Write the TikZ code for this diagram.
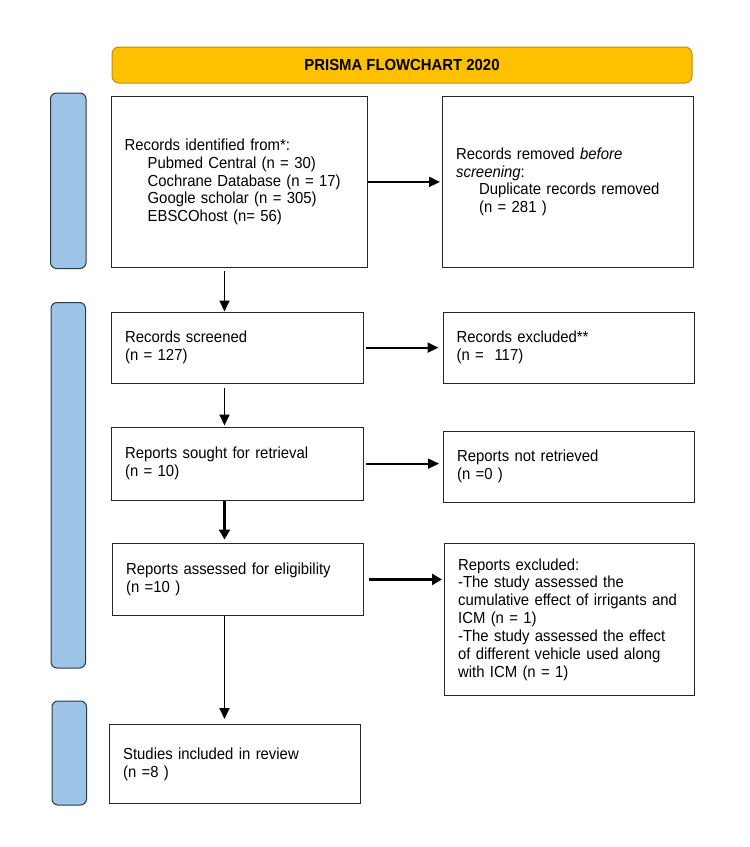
\documentclass[tikz,border=0pt]{standalone}
\usepackage{fontspec}
\setmainfont{Liberation Sans}[FakeStretch=0.93]
\usepackage{tikz}
\usetikzlibrary{calc, arrows.meta, positioning}

\definecolor{prismagold}{HTML}{FFC000}
\definecolor{prismagoldline}{HTML}{BF9000}
\definecolor{phaseblue}{HTML}{9DC3E6}
\definecolor{phaseline}{HTML}{2B3A4A}

\newcommand{\subline}{\hspace*{23pt}}

\tikzset{
    flowbox/.style={draw=black!85, line width=1.3pt, rectangle, anchor=north west,
        inner xsep=13.5pt, inner ysep=0pt, align=left,
        font=\fontsize{16}{17.9}\selectfont},
    titlebar/.style={draw=prismagoldline, fill=prismagold, line width=1pt,
        rounded corners=7pt, minimum width=580pt, minimum height=36pt,
        font=\bfseries\fontsize{16}{18}\selectfont},
    phasebar/.style={draw=phaseline, line width=1pt, fill=phaseblue, rounded corners=6pt},
    flowarrow/.style={-{Triangle[length=11pt, width=10pt]}, line width=1.8pt},
    heavyarrow/.style={-{Triangle[length=10pt, width=11pt]}, line width=2.6pt},
}

\begin{document}
\begin{tikzpicture}[x=1pt, y=-1pt]
    % --- page frame ---
    \useasboundingbox (0,0) rectangle (750,847);
    \fill[white] (0,0) rectangle (750,847);

    % --- heading ---
    \node[titlebar] (title) at (402,65) {PRISMA FLOWCHART 2020};

    % --- phase bars on the left ---
    \draw[phasebar] (50.5,93) rectangle (86,268.5);
    \draw[phasebar] (51,302.5) rectangle (85.5,668);
    \draw[phasebar] (52,701) rectangle (86.5,805);

    % --- left column ---
    \node[flowbox, text width=229.5pt, minimum height=171.5pt] (ident) at (110.5,95.5)
        {Records identified from*:\\
         \subline Pubmed Central (n = 30)\\
         \subline Cochrane Database (n = 17)\\
         \subline Google scholar (n = 305)\\
         \subline EBSCOhost (n= 56)};
    \node[flowbox, text width=224.5pt, minimum height=71pt] (screened) at (111,311.5)
        {Records screened\\(n = 127)};
    \node[flowbox, text width=225pt, minimum height=73pt] (sought) at (111,426.5)
        {Reports sought for retrieval\\(n = 10)};
    \node[flowbox, text width=223.5pt, minimum height=72.5pt] (assessed) at (112,542.5)
        {Reports assessed for eligibility\\(n =10 )};
    \node[flowbox, text width=224pt, minimum height=79pt] (included) at (109,724)
        {Studies included in review\\(n =8 )};

    % --- right column ---
    \node[flowbox, text width=223.5pt, minimum height=171.5pt] (removed) at (442,95.5)
        {Records removed \textit{before}\\
         \textit{screening}:\\
         \subline Duplicate records removed\\
         \subline (n = 281 )};
    \node[flowbox, text width=224pt, minimum height=71pt] (excluded) at (442.5,311.5)
        {Records excluded**\\(n = \ 117)};
    \node[flowbox, text width=224pt, minimum height=71pt] (notretr) at (443,430.5)
        {Reports not retrieved\\(n =0 )};
    \node[flowbox, text width=223pt, minimum height=152pt] (repexcl) at (444,543)
        {Reports excluded:\\
         -The study assessed the\\
         cumulative effect of irrigants and\\
         ICM (n = 1)\\
         -The study assessed the effect\\
         of different vehicle used along\\
         with ICM (n = 1)};

    % --- vertical connectors ---
    \coordinate (col) at (224.5,0);
    \draw[flowarrow, shorten <=3pt] (ident.south -| col) -- (screened.north -| col);
    \draw[flowarrow, shorten <=4pt, shorten >=1pt] (screened.south -| col) -- (sought.north -| col);
    \draw[heavyarrow, shorten >=3pt] (sought.south -| col) -- (assessed.north -| col);
    \draw[flowarrow, shorten >=5pt] (assessed.south -| col) -- (included.north -| col);

    % --- horizontal connectors ---
    \draw[flowarrow, shorten >=2pt] (ident.east) -- (removed.west);
    \draw[flowarrow, shorten <=2pt, shorten >=4pt] (screened.east) -- (screened.east -| excluded.west);
    \draw[flowarrow, shorten <=2pt, shorten >=4pt] (sought.east) -- (sought.east -| notretr.west);
    \draw[heavyarrow, shorten <=5pt, shorten >=2pt] (assessed.east) -- (assessed.east -| repexcl.west);
\end{tikzpicture}
\end{document}
